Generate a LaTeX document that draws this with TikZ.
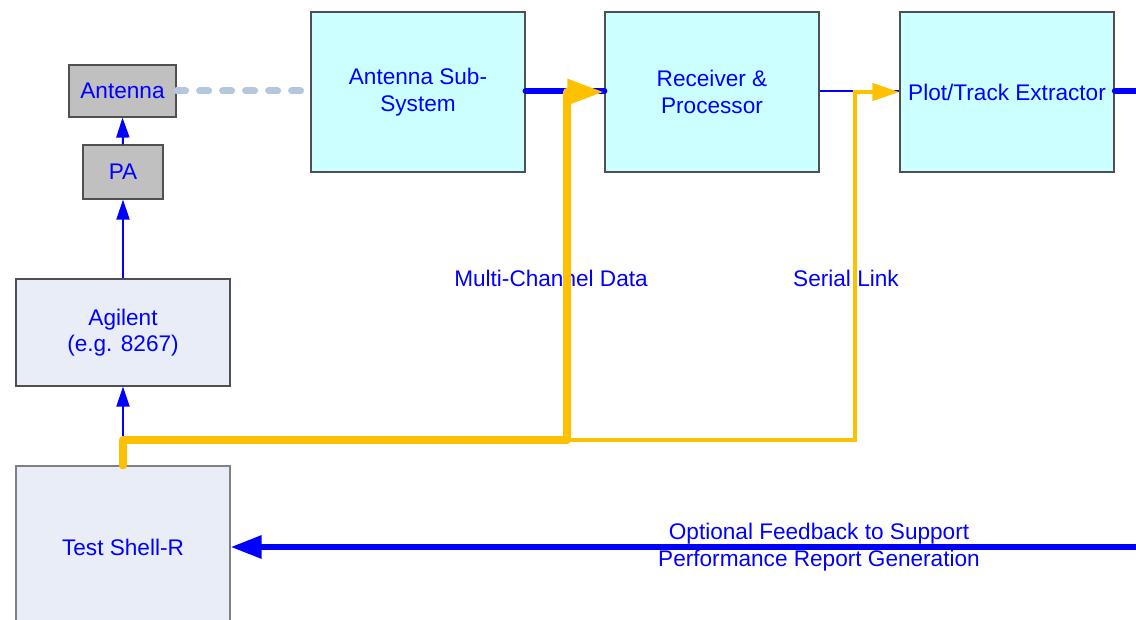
\documentclass[tikz,border=0pt]{standalone}
\usepackage{fontspec}
\setmainfont{Liberation Sans}
\usetikzlibrary{arrows.meta}
\definecolor{txtblue}{RGB}{0,0,255}
\definecolor{lineblue}{RGB}{0,0,255}
\definecolor{gold}{RGB}{255,192,0}
\definecolor{cyanfill}{RGB}{204,255,255}
\definecolor{paleblue}{RGB}{232,237,247}
\definecolor{grayfill}{RGB}{192,192,192}
\definecolor{dashblue}{RGB}{180,199,220}
\definecolor{borderdark}{RGB}{80,80,80}
\tikzset{
  lbl/.style={text=txtblue, font=\fontsize{22.6}{26.5}\selectfont, align=center, inner sep=0pt},
  cyanbox/.style={lbl, draw=borderdark, line width=1.2pt, fill=cyanfill, minimum width=214pt, minimum height=160pt},
  greybox/.style={lbl, draw=borderdark, line width=1.2pt, fill=grayfill},
  palebox/.style={lbl, draw=borderdark, line width=1.2pt, fill=paleblue, minimum width=214pt},
  smallarrow/.style={draw=lineblue, line width=2pt, -{Triangle[length=20pt,width=13pt]}},
  goldthick/.style={draw=gold, line width=8pt, line join=round, line cap=round, -{Triangle[length=37pt,width=24pt]}},
  goldthin/.style={draw=gold, line width=4pt, line join=miter, -{Triangle[length=27pt,width=17pt]}},
}
\begin{document}
\begin{tikzpicture}[x=1pt,y=-1pt]
\useasboundingbox (0,0) rectangle (1136,620);
\clip (0,0) rectangle (1136,620);
% boxes
\node[greybox, minimum width=107pt, minimum height=52pt] (ant) at (122.5,91) {Antenna};
\node[greybox, minimum width=80pt, minimum height=54pt] (pa) at (123,172) {PA};
\node[palebox, minimum height=107pt] (ag) at (123,332.5) {Agilent\\(e.g. 8267)};
\node[palebox, draw=gray, minimum height=162pt] (ts) at (123,547) {Test Shell-R};
\node[cyanbox] (as) at (418,92) {Antenna Sub-\\System};
\node[cyanbox] (rp) at (712,92) {Receiver \&\\Processor};
\node[cyanbox] (pe) at (1007,92) {Plot/Track Extractor};
% labels
\node[lbl] (mcd) at (551,278) {Multi-Channel Data};
\node[lbl] (sl) at (846,278) {Serial Link};
\node[lbl] (fb) at (819,547) {Optional Feedback to Support\\Performance Report Generation};
% coordinates
\coordinate (jA) at (567,440);
\coordinate (jB) at (855,440);
\coordinate (rt) at (1136,91);
\coordinate (rb) at (1136,547);
% blue connectors
\draw[smallarrow] (pa.north) -- (ant.south);
\draw[smallarrow] (ag.north) -- (pa.south);
\draw[smallarrow] (ts.north) -- (ag.south);
\draw[draw=dashblue, line width=7pt, line cap=round, dash pattern=on 9pt off 14pt, shorten >=8pt] (ant.east) -- (ant.east -| as.west);
\draw[draw=lineblue, line width=6pt, line cap=round] (as.east |- 0,91) -- (rp.west |- 0,91);
\draw[draw=lineblue, line width=2pt] (rp.east |- 0,91) -- (pe.west |- 0,91);
\draw[draw=lineblue, line width=5.5pt, line cap=round] (pe.east |- 0,91) -- (rt);
\draw[draw=lineblue, line width=6pt, -{Triangle[length=31pt,width=22pt]}] (rb) -- (ts.east |- rb);
% gold connectors
\draw[goldthin] (jA) -- (jB) |- (pe.west |- 0,92);
\draw[goldthick] (ts.north) |- (jA) |- (rp.west |- 0,92);
\end{tikzpicture}
\end{document}
